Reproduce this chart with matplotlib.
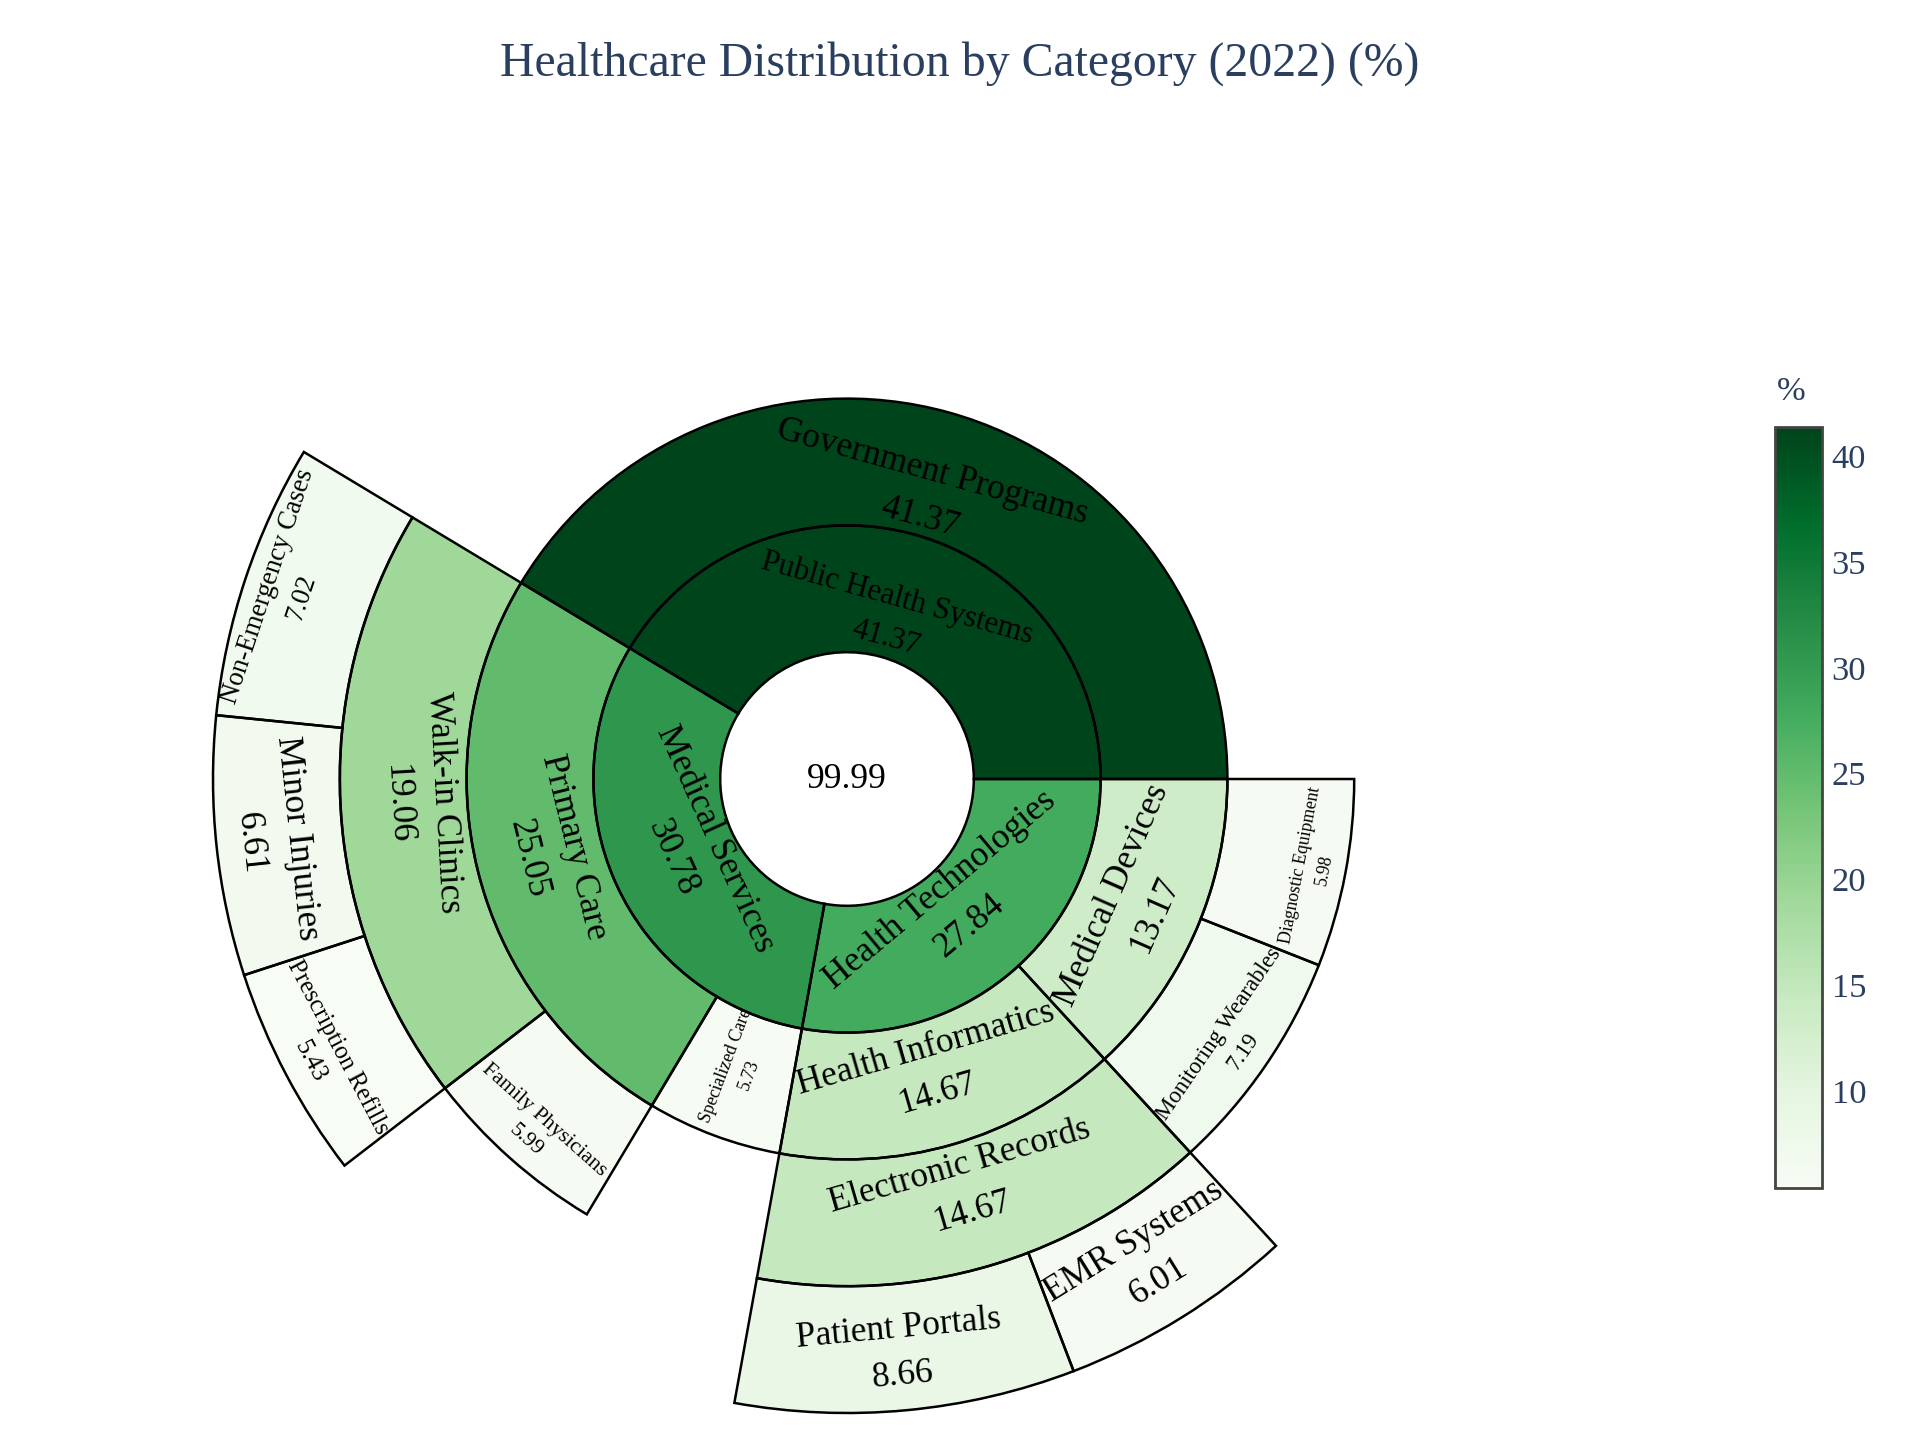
import numpy as np
import matplotlib
matplotlib.use("Agg")
import matplotlib.pyplot as plt
from matplotlib import cm, colors as mcolors

plt.rcParams['font.family'] = ['Liberation Serif', 'DejaVu Serif']

# ---------------- data ----------------
labels = ["Healthcare", "Public Health Systems", "Medical Services", "Health Technologies",
          "Government Programs", "Primary Care", "Specialized Care",
          "Health Informatics", "Medical Devices",
          "Walk-in Clinics", "Family Physicians", "Electronic Records",
          "Monitoring Wearables", "Diagnostic Equipment",
          "Non-Emergency Cases", "Minor Injuries", "Prescription Refills",
          "Patient Portals", "EMR Systems"]
parents = ["", "Healthcare", "Healthcare", "Healthcare",
           "Public Health Systems", "Medical Services", "Medical Services",
           "Health Technologies", "Health Technologies",
           "Primary Care", "Primary Care", "Health Informatics",
           "Medical Devices", "Medical Devices",
           "Walk-in Clinics", "Walk-in Clinics", "Walk-in Clinics",
           "Electronic Records", "Electronic Records"]
values = [99.99, 41.37, 30.78, 27.84,
          41.37, 25.05, 5.73,
          14.67, 13.17,
          19.06, 5.99, 14.67,
          7.19, 5.98,
          7.02, 6.61, 5.43,
          8.66, 6.01]
cbar_ticks = [10, 15, 20, 25, 30, 35, 40]
title = "Healthcare Distribution by Category (2022) (%)"

# ---------------- styling / layout ----------------
W, H = 1920, 1440
CX, CY = 847, 779          # centre of the sunburst (px from top-left)
RING = 126.8               # px per level
NLEV = 5
TXT = '#2a3f5f'
base_fs = 25.5
font_sizes = {"Public Health Systems": 22.3, "Non-Emergency Cases": 19.4,
              "Prescription Refills": 17.9, "Family Physicians": 15.7,
              "Specialized Care": 12.8, "Monitoring Wearables": 16.5,
              "Diagnostic Equipment": 12.8}
radial_text = {"Specialized Care"}
r_shift_px = {"Government Programs": -22, "Public Health Systems": -23,
              "Medical Services": -22, "Health Technologies": -22,
              "Primary Care": -12, "Walk-in Clinics": -17, "Medical Devices": -4,
              "Health Informatics": -13, "Electronic Records": -17,
              "Patient Portals": 5, "EMR Systems": -3,
              "Monitoring Wearables": 22, "Diagnostic Equipment": 30,
              "Specialized Care": -6, "Family Physicians": 26,
              "Non-Emergency Cases": 22, "Prescription Refills": 20,
              "Minor Injuries": 6}
LINESP = 1.55
EDGE_LW = 1.8

# ---------------- hierarchy layout ----------------
val = dict(zip(labels, values))
children = {l: [] for l in labels}
for l, p in zip(labels, parents):
    if p:
        children[p].append(l)
root = labels[0]
start, span, depth = {root: 0.0}, {root: 360.0}, {root: 0}


def place(node):
    a = start[node]
    for k in sorted(children[node], key=lambda c: -val[c]):
        start[k] = a
        span[k] = 360.0 * val[k] / val[root]
        depth[k] = depth[node] + 1
        a += span[k]
        place(k)


place(root)

cmap = plt.get_cmap('Greens')
norm = mcolors.Normalize(vmin=min(values[1:]), vmax=max(values[1:]))

fig = plt.figure(figsize=(W / 100, H / 100), dpi=100)
R = RING * NLEV
ax = fig.add_axes([(CX - R) / W, (H - CY - R) / H, 2 * R / W, 2 * R / H],
                  projection='polar')
ax.set_ylim(0, NLEV)
ax.set_theta_zero_location('E')
ax.set_theta_direction(1)
ax.set_axis_off()

# root disc
ax.bar(0, 1, width=2 * np.pi, bottom=0, color='white', edgecolor='none',
       align='center', zorder=1)
# fills
for l in labels[1:]:
    ax.bar(np.deg2rad(start[l]), 1, width=np.deg2rad(span[l]), bottom=depth[l],
           align='edge', color=cmap(norm(val[l])), edgecolor='none',
           linewidth=0, zorder=1, clip_on=False)
# edges
for l in labels[1:]:
    ax.bar(np.deg2rad(start[l]), 1, width=np.deg2rad(span[l]), bottom=depth[l],
           align='edge', fill=False, edgecolor='black', linewidth=EDGE_LW,
           zorder=2, clip_on=False)

# labels
for l in labels:
    v = val[l]
    fs = font_sizes.get(l, base_fs)
    if l == root:
        ax.text(0, 0, f"{v:.2f}", ha='center', va='center', fontsize=fs,
                color='black', zorder=5)
        continue
    mid = start[l] + span[l] / 2
    if l in radial_text:
        rot = mid
    else:
        rot = mid - 90
    rot = (rot + 180) % 360 - 180
    if rot > 90:
        rot -= 180
    elif rot <= -90:
        rot += 180
    r = depth[l] + 0.5 + r_shift_px.get(l, 0) / RING
    ax.text(np.deg2rad(mid), r, f"{l}\n{v:.2f}", ha='center', va='center',
            multialignment='center', rotation=rot, rotation_mode='anchor',
            fontsize=fs, color='black', linespacing=LINESP, zorder=5)

# colorbar
cb_top, cb_bot, cb_left, cb_w = 427, 1188, 1775, 47
cax = fig.add_axes([cb_left / W, 1 - cb_bot / H, cb_w / W, (cb_bot - cb_top) / H])
sm = cm.ScalarMappable(norm=norm, cmap=cmap)
cb = fig.colorbar(sm, cax=cax, ticks=cbar_ticks)
cb.outline.set_edgecolor('#444444')
cb.outline.set_linewidth(2)
cax.tick_params(length=0, pad=7, labelsize=24.8, labelcolor=TXT)
fig.text(1777 / W, 1 - 392 / H, '%', ha='left', va='center', fontsize=24.8,
         color=TXT)

fig.text(0.5, 1 - 76 / H, title, ha='center', va='baseline', fontsize=34.4,
         color=TXT)

fig.savefig('out.png', dpi=100)
